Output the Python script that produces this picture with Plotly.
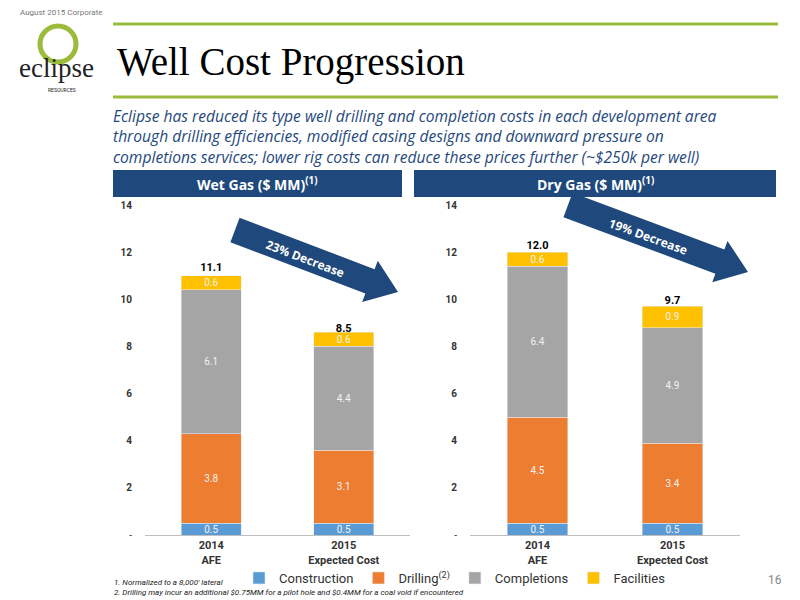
import math
import plotly.graph_objects as go
from plotly.subplots import make_subplots

categories = ["2014<br>AFE", "2015<br>Expected Cost"]
wet_construction = [0.5, 0.5]
wet_drilling = [3.8, 3.1]
wet_completions = [6.1, 4.4]
wet_facilities = [0.6, 0.6]
wet_total = [11.1, 8.5]
dry_construction = [0.5, 0.5]
dry_drilling = [4.5, 3.4]
dry_completions = [6.4, 4.9]
dry_facilities = [0.6, 0.9]
dry_total = [12.0, 9.7]

FONT = "Roboto"
series = [
    ("Construction", "#5b9bd5", "#f2f2f2"),
    ("Drilling<sup>(2)</sup>", "#ed7d31", "#f2f2f2"),
    ("Completions", "#a5a5a5", "#f2f2f2"),
    ("Facilities", "#ffc000", "#f2f2f2"),
]
wet = [wet_construction, wet_drilling, wet_completions, wet_facilities]
dry = [dry_construction, dry_drilling, dry_completions, dry_facilities]

# page has an 8px body margin, so screen pixels are offset
W, H, OFF = 800, 600, 8
def fx(x):
    return (x - OFF) / W
def fy(y):
    return 1 - (y - OFF) / H

fig = make_subplots(rows=1, cols=2)
for col, data in ((1, wet), (2, dry)):
    for (name, color, tcol), vals in zip(series, data):
        fig.add_trace(go.Bar(
            x=categories, y=vals, name=name, marker_color=color,
            text=[f"{v:.1f}" for v in vals], textposition="inside",
            insidetextanchor="middle", textangle=0, constraintext="none",
            textfont=dict(color=tcol, size=10, family=FONT),
            width=0.45, showlegend=(col == 1),
        ), row=1, col=col)
    totals = wet_total if col == 1 else dry_total
    fig.add_trace(go.Scatter(
        x=categories, y=totals, mode="text", text=[f"<b>{t:.1f}</b>" for t in totals],
        textposition="top center", textfont=dict(size=11, color="black", family=FONT),
        showlegend=False, hoverinfo="skip", cliponaxis=False,
    ), row=1, col=col)

fig.update_layout(
    barmode="stack", width=W, height=H, paper_bgcolor="white", plot_bgcolor="white",
    margin=dict(l=0, r=0, t=0, b=0),
    font=dict(family=FONT, color="#222"),
    xaxis=dict(domain=[fx(145), fx(410)]),
    xaxis2=dict(domain=[fx(470), fx(740)]),
    legend=dict(orientation="h", x=fx(455), xanchor="center", y=fy(578), yanchor="middle",
                font=dict(size=13, family=FONT, color="#333"), bgcolor="rgba(0,0,0,0)",
                itemwidth=30, traceorder="normal"),
)
fig.update_xaxes(showline=True, linecolor="#bfbfbf", tickfont=dict(size=11, color="#333", family=FONT),
                 ticks="", tickangle=0, automargin=False,
                 ticktext=["<b>2014</b><br><b>AFE</b>", "<b>2015</b><br><b>Expected Cost</b>"],
                 tickvals=categories)
fig.update_yaxes(domain=[fy(535), fy(205)], range=[0, 14],
                 showgrid=False, zeroline=False, showline=False, automargin=False,
                 tickvals=[0, 2, 4, 6, 8, 10, 12, 14],
                 ticktext=["-", "<b>2</b>", "<b>4</b>", "<b>6</b>", "<b>8</b>", "<b>10</b>", "<b>12</b>", "<b>14</b>"],
                 tickfont=dict(size=10, color="#333", family=FONT), ticklabelstandoff=12)

shapes = []
for y in (24, 97):
    shapes.append(dict(type="line", xref="paper", yref="paper", x0=fx(113), x1=fx(778),
                       y0=fy(y), y1=fy(y), line=dict(color="#9bbb3b", width=3)))
for x0, x1 in ((113, 402), (414, 776)):
    shapes.append(dict(type="rect", xref="paper", yref="paper", x0=fx(x0), x1=fx(x1),
                       y0=fy(197), y1=fy(170), fillcolor="#1f497d", line_width=0))

def arrow(x0, y0, x1, y1, t=13, hw=22, hl=30):
    dx, dy = x1 - x0, y1 - y0
    L = math.hypot(dx, dy)
    ux, uy = dx / L, dy / L
    nx, ny = -uy, ux
    bx, by = x1 - ux * hl, y1 - uy * hl
    pts = [(x0 + nx * t, y0 + ny * t), (bx + nx * t, by + ny * t), (bx + nx * hw, by + ny * hw),
           (x1, y1), (bx - nx * hw, by - ny * hw), (bx - nx * t, by - ny * t), (x0 - nx * t, y0 - ny * t)]
    p = "M " + " L ".join(f"{fx(a):.4f},{fy(b):.4f}" for a, b in pts) + " Z"
    return dict(type="path", xref="paper", yref="paper", path=p, fillcolor="#1f497d", line_width=0)

shapes.append(arrow(235, 230, 398, 292))
shapes.append(arrow(568, 205, 748, 272))
shapes.append(dict(type="circle", xref="paper", yref="paper", x0=fx(40), x1=fx(76),
                   y0=fy(62), y1=fy(26), line=dict(color="#9bbb3b", width=5)))
fig.update_layout(shapes=shapes)

ann = [
    dict(text="August 2015 Corporate", x=fx(18), y=fy(12), font=dict(size=8, color="#777", family=FONT)),
    dict(text="Well Cost Progression", x=fx(115), y=fy(62),
         font=dict(size=39, family="Liberation Serif", color="black")),
    dict(text="<i>Eclipse has reduced its type well drilling and completion costs in each development area<br>"
              "through drilling efficiencies, modified casing designs and downward pressure on<br>"
              "completions services; lower rig costs can reduce these prices further (~$250k per well)</i>",
         x=fx(111), y=fy(137), align="left",
         font=dict(size=15.6, family="Open Sans", color="#1f497d")),
    dict(text="<b>Wet Gas ($ MM)<sup>(1)</sup></b>", x=fx(257), y=fy(184), xanchor="center",
         font=dict(size=14, color="white", family="Open Sans")),
    dict(text="<b>Dry Gas ($ MM)<sup>(1)</sup></b>", x=fx(595), y=fy(184), xanchor="center",
         font=dict(size=14, color="white", family="Open Sans")),
    dict(text="<b>23% Decrease</b>", x=fx(305), y=fy(258), xanchor="center", textangle=21,
         font=dict(size=12, color="white", family="Open Sans")),
    dict(text="<b>19% Decrease</b>", x=fx(648), y=fy(236), xanchor="center", textangle=20,
         font=dict(size=12, color="white", family="Open Sans")),
    dict(text="<i>1. Normalized to a 8,000' lateral<br>2. Drilling may incur an additional $0.75MM for a pilot hole and $0.4MM for a coal void if encountered</i>",
         x=fx(112), y=fy(587), align="left", font=dict(size=8, color="#222", family=FONT)),
    dict(text="16", x=fx(766), y=fy(580), font=dict(size=12, color="#888", family=FONT)),
    dict(text="eclipse", x=fx(56), y=fy(68), xanchor="center",
         font=dict(size=27, family="Liberation Serif", color="#222")),
    dict(text="RESOURCES", x=fx(62), y=fy(90), xanchor="center",
         font=dict(size=5, color="#222", family=FONT)),
]
for a in ann:
    a.setdefault("xanchor", "left")
    fig.add_annotation(xref="paper", yref="paper", showarrow=False, yanchor="middle", **a)

fig.write_html("out.html")
